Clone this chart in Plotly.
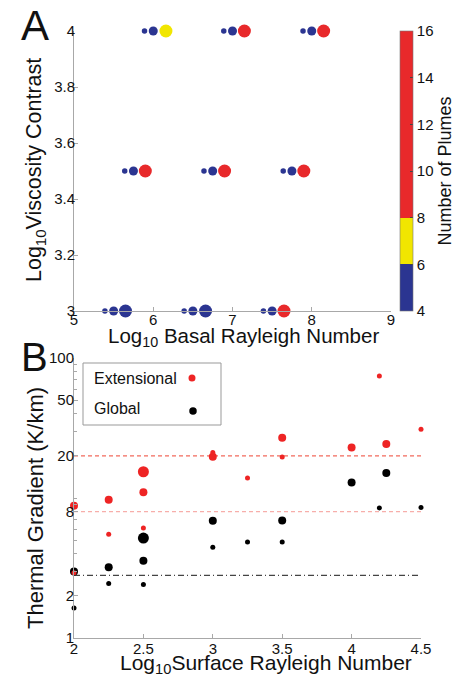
import plotly.graph_objects as go

W, H = 466, 677

# ---------------- Panel A data ----------------
basal_ra = [5.89, 6.00, 6.16, 6.89, 7.00, 7.15, 7.89, 8.00, 8.15,
            5.64, 5.75, 5.90, 6.64, 6.75, 6.90, 7.64, 7.75, 7.90,
            5.39, 5.50, 5.65, 6.39, 6.50, 6.66, 7.39, 7.50, 7.65]
visc_contrast = [4, 4, 4, 4, 4, 4, 4, 4, 4,
                 3.5, 3.5, 3.5, 3.5, 3.5, 3.5, 3.5, 3.5, 3.5,
                 3, 3, 3, 3, 3, 3, 3, 3, 3]
n_plumes = [4, 5, 7, 4, 5, 12, 4, 5, 14,
            4, 5, 10, 5, 5, 11, 4, 5, 13,
            4, 4, 5, 4, 5, 5, 4, 5, 10]
size_class_a = [1, 2, 3, 1, 2, 3, 1, 2, 3,
                1, 2, 3, 1, 2, 3, 1, 2, 3,
                1, 2, 3, 1, 2, 3, 1, 2, 3]
cbar_ticks = [4, 6, 8, 10, 12, 14, 16]

# ---------------- Panel B data ----------------
ext_x = [2, 2, 2.25, 2.25, 2.5, 2.5, 2.5, 3, 3, 3.25, 3.5, 3.5, 4, 4.2, 4.25, 4.5]
ext_y = [8.8, 2.92, 9.7, 5.5, 15.4, 11.0, 6.1, 19.7, 21.1, 13.9, 26.9, 19.6, 22.9, 74.5, 24.3, 31.0]
ext_size = [2, 1, 2, 1, 3, 2, 1, 2, 1, 1, 2, 1, 2, 1, 2, 1]

glob_x = [2, 2, 2.25, 2.25, 2.5, 2.5, 2.5, 3, 3, 3.25, 3.5, 3.5, 4, 4.2, 4.25, 4.5]
glob_y = [2.99, 1.64, 3.2, 2.45, 5.17, 3.57, 2.41, 6.87, 4.44, 4.84, 6.9, 4.84, 12.9, 8.49, 15.1, 8.57]
glob_size = [2, 1, 2, 1, 3, 2, 1, 2, 1, 1, 2, 1, 2, 1, 2, 1]

ref_x = [2, 4.5]
ref_ext_high = 20
ref_ext_low = 8
ref_global = 2.8
b_yticks = [1, 2, 8, 20, 50, 100]
b_minor = [3, 4, 5, 6, 7, 9, 10, 30, 40, 60, 70, 80, 90]

# ---------------- styles ----------------
BLUE, YELLOW, RED = "#2b3591", "#f1e600", "#e8292b"
size_px_a = {1: 5.5, 2: 9, 3: 13}
size_px_b = {1: 5, 2: 8, 3: 11}
AXC = "#a8a8a8"
FONT = "Liberation Sans, Arial, sans-serif"

def px_x(p):
    return p / W

def px_y(p):
    return 1 - p / H

fig = go.Figure()

fig.add_trace(go.Scatter(
    x=basal_ra, y=visc_contrast, mode="markers", xaxis="x", yaxis="y",
    cliponaxis=False, showlegend=False,
    marker=dict(
        size=[size_px_a[s] for s in size_class_a],
        color=n_plumes, cmin=4, cmax=16,
        colorscale=[[0, BLUE], [1/6, BLUE], [1/6, YELLOW], [2/6, YELLOW], [2/6, RED], [1, RED]],
        line=dict(width=0), opacity=1,
        colorbar=dict(
            x=px_x(400), xanchor="left", y=px_y(171), yanchor="middle",
            thickness=13, len=280, lenmode="pixels", xpad=0, ypad=0,
            tickvals=cbar_ticks, ticks="inside", ticklen=3, tickcolor="#444",
            outlinewidth=0.6, outlinecolor="#777",
            tickfont=dict(size=15, color="#111", family=FONT),
            title=dict(text="Number of Plumes", side="right",
                       font=dict(size=18, color="#111", family=FONT)),
        ),
    ),
))

# reference lines in panel B
fig.add_trace(go.Scatter(x=ref_x, y=[ref_ext_high] * 2, mode="lines", xaxis="x2", yaxis="y2",
                         line=dict(color="#f26a5c", width=1.2, dash="4px,3px"), showlegend=False))
fig.add_trace(go.Scatter(x=ref_x, y=[ref_ext_low] * 2, mode="lines", xaxis="x2", yaxis="y2",
                         line=dict(color="#f7aeaa", width=1.2, dash="4px,3px"), showlegend=False))
fig.add_trace(go.Scatter(x=ref_x, y=[ref_global] * 2, mode="lines", xaxis="x2", yaxis="y2",
                         line=dict(color="#444444", width=1.2, dash="6px,3px,1px,3px"), showlegend=False))

fig.add_trace(go.Scatter(
    x=glob_x, y=glob_y, mode="markers", xaxis="x2", yaxis="y2", cliponaxis=False,
    name="Global", showlegend=False,
    marker=dict(size=[size_px_b[s] for s in glob_size], color="#000000", line=dict(width=0), opacity=1),
))
fig.add_trace(go.Scatter(
    x=ext_x, y=ext_y, mode="markers", xaxis="x2", yaxis="y2", cliponaxis=False,
    name="Extensional", showlegend=False,
    marker=dict(size=[size_px_b[s] for s in ext_size], color="#ee2424", line=dict(width=0), opacity=1),
))

axis_common = dict(showgrid=False, zeroline=False, showline=True, linecolor=AXC, linewidth=1,
                   ticks="inside", ticklen=4, tickcolor=AXC, mirror=False,
                   tickfont=dict(size=15, color="#111", family=FONT))

fig.update_layout(
    width=W, height=H, margin=dict(l=0, r=0, t=0, b=0, pad=0, autoexpand=False),
    paper_bgcolor="white", plot_bgcolor="white",
    font=dict(family=FONT, color="#111"),
    xaxis=dict(domain=[px_x(74), px_x(391)], range=[5, 9], tickvals=[5, 6, 7, 8, 9],
               anchor="y", ticklabelstandoff=-5, **axis_common),
    yaxis=dict(domain=[px_y(311), px_y(31)], range=[3, 4], tickvals=[3, 3.2, 3.4, 3.6, 3.8, 4],
               ticktext=["3", "3.2", "3.4", "3.6", "3.8", "4"], anchor="x",
               ticklabelstandoff=-5, **axis_common),
    xaxis2=dict(domain=[px_x(74), px_x(421)], range=[2, 4.5], tickvals=[2, 2.5, 3, 3.5, 4, 4.5],
                anchor="y2", ticklabelstandoff=-3, **axis_common),
    yaxis2=dict(domain=[px_y(638), px_y(358)], type="log", range=[0, 2], tickvals=b_yticks,
                ticktext=[str(v) for v in b_yticks], anchor="x2", ticklabelstandoff=-4,
                minor=dict(tickvals=b_minor, ticks="inside", ticklen=3, tickcolor=AXC),
                **axis_common),
)

ann = []
def add_text(text, x, y, size, angle=0, xanchor="center", yanchor="middle"):
    ann.append(dict(text=text, x=px_x(x), y=px_y(y), xref="paper", yref="paper",
                    showarrow=False, textangle=angle, xanchor=xanchor, yanchor=yanchor,
                    font=dict(size=size, color="#111", family=FONT)))

add_text("A", 35, 25, 42)
add_text("B", 34, 357, 40)
add_text("Log<sub>10</sub> Basal Rayleigh Number", 243, 337, 20.5)
add_text("Log<sub>10</sub>Viscosity Contrast", 35, 170, 21.5, angle=-90)
add_text("Log<sub>10</sub>Surface Rayleigh Number", 266, 664, 21)
add_text("Thermal Gradient (K/km)", 35, 508, 22, angle=-90)
add_text("Extensional", 92, 378, 16, xanchor="left")
add_text("Global", 92, 409, 16, xanchor="left")
fig.update_layout(annotations=ann)

shapes = [
    dict(type="rect", xref="paper", yref="paper", x0=px_x(83), x1=px_x(221), y0=px_y(425), y1=px_y(363),
         line=dict(color="#999999", width=1), fillcolor="white", layer="above"),
]
for cx, cy, d, col in [(192, 378, 7, "#ee2424"), (193, 411, 7.5, "#000000")]:
    shapes.append(dict(type="circle", xref="paper", yref="paper", xsizemode="pixel", ysizemode="pixel",
                       xanchor=px_x(cx), yanchor=px_y(cy), x0=-d / 2, x1=d / 2, y0=-d / 2, y1=d / 2,
                       fillcolor=col, line=dict(width=0), layer="above"))
fig.update_layout(shapes=shapes)

fig.write_html("out.html", config={"displayModeBar": False},
               post_script="document.body.style.margin='0';")
